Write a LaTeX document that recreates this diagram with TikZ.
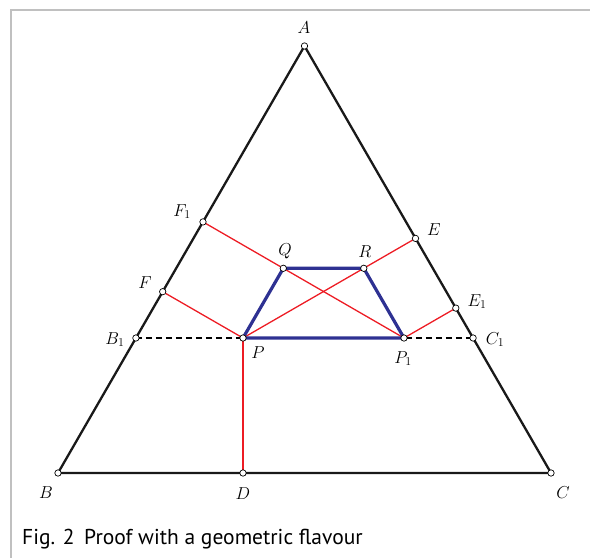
\documentclass[tikz,border=0pt]{standalone}
\usepackage{amsmath,amssymb}
\usepackage{xcolor}
\usepackage{fontspec}
\newfontfamily\capfont{PT Sans}
\usepackage{tikz}
\usetikzlibrary{arrows.meta,positioning,calc}
\definecolor{segred}{RGB}{237,28,36}
\definecolor{trapblue}{RGB}{46,49,146}
\definecolor{framegray}{RGB}{192,192,192}
\begin{document}
\begin{tikzpicture}[x=1pt, y=-1pt,
  dot/.style={circle, draw=black, fill=white, line width=0.7pt, inner sep=0pt, minimum size=6.4pt},
  lbl/.style={anchor=base, inner sep=0pt, font=\fontsize{17.5}{20}\selectfont},
  side/.style={line width=2.3pt, black!90},
  perp/.style={line width=1.3pt, segred},
  trap/.style={line width=3.2pt, trapblue, line join=round}]
  \useasboundingbox (0,0) rectangle (590,558);
  \draw[line width=2.5pt, framegray] (590,10)--(11,10)--(11,558);
  \coordinate (A) at (304.5,46);
  \coordinate (B) at (58,473);
  \coordinate (C) at (551,473);
  \coordinate (D) at (243,473);
  \coordinate (P) at (243,338);
  \coordinate (P1) at (404,338);
  \coordinate (B1) at (135.9,338);
  \coordinate (C1) at (473.1,338);
  \coordinate (F) at (162.7,291.7);
  \coordinate (F1) at (203,221.9);
  \coordinate (E) at (415.5,238.4);
  \coordinate (E1) at (455.8,308.1);
  \coordinate (Q) at (283.3,268.3);
  \coordinate (R) at (363.8,268.3);
  \draw[perp] (P)--(D);
  \draw[perp] (P)--(F);
  \draw[perp] (P)--(E);
  \draw[perp] (P1)--(F1);
  \draw[perp] (P1)--(E1);
  \draw[line width=1.2pt, dashed, dash pattern=on 6pt off 4pt] (B1)--(C1);
  \draw[trap] (P)--(Q)--(R)--(P1)--cycle;
  \draw[side, line join=miter] (A)--(B)--(C)--cycle;
  \foreach \p in {A,B,C,D,P,P1,B1,C1,F,F1,E,E1,Q,R}
    \node[dot] (d\p) at (\p) {};
  \node[lbl] (tA) at (304,33) {$A$};
  \node[lbl] (tB) at (46,498) {$B$};
  \node[lbl] (tC) at (563,498) {$C$};
  \node[lbl] (tD) at (243,499) {$D$};
  \node[lbl] (tF1) at (182,216) {$F_1$};
  \node[lbl] (tF) at (145,288) {$F$};
  \node[lbl] (tB1) at (115,344) {$B_1$};
  \node[lbl] (tQ) at (285,255) {$Q$};
  \node[lbl] (tR) at (365,257) {$R$};
  \node[lbl] (tE) at (434,235) {$E$};
  \node[lbl] (tE1) at (477,306) {$E_1$};
  \node[lbl] (tC1) at (495,344) {$C_1$};
  \node[lbl] (tP) at (258,358) {$P$};
  \node[lbl] (tP1) at (403,363) {$P_1$};
  \node[anchor=base west, inner sep=0pt, font=\capfont\fontsize{21.5}{26}\selectfont] (cap) at (22,544)
    {Fig. 2\hspace{0.45em}Proof with a geometric flavour};
\end{tikzpicture}
\end{document}
